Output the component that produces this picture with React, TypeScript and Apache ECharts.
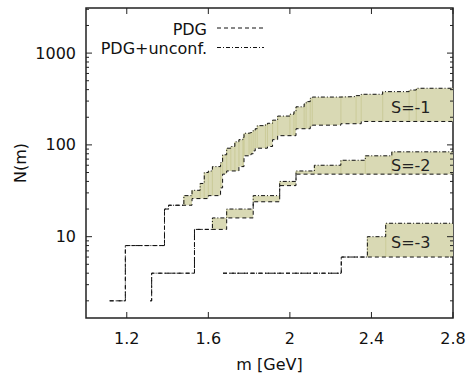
import React, { useEffect, useRef } from "react";
import * as echarts from "echarts";

// ---- axis ranges & ticks ----
const X_MIN = 1.0;
const X_MAX = 2.8;
const Y_MIN = 1.3;
const Y_MAX = 3100;
const xTickValues = [1.2, 1.6, 2.0, 2.4, 2.8];
const yMajorTicks = [10, 100, 1000];
const yMinorTicks = [2, 3, 4, 5, 6, 7, 8, 9, 20, 30, 40, 50, 60, 70, 80, 90, 200, 300, 400, 500, 600, 700, 800, 900, 2000, 3000];

// ---- S = -1 ----
const sM1PdgMass = [1.116, 1.193, 1.385, 1.405, 1.52, 1.6, 1.66, 1.67, 1.69, 1.75, 1.775, 1.8, 1.81, 1.82, 1.83, 1.89, 1.915, 1.94, 2.03, 2.1, 2.11, 2.25, 2.35];
const sM1PdgN = [2, 8, 20, 22, 26, 28, 34, 48, 52, 58, 76, 78, 80, 86, 92, 96, 114, 126, 150, 158, 164, 170, 180];
const sM1AllMass = [1.116, 1.193, 1.385, 1.405, 1.48, 1.52, 1.56, 1.58, 1.6, 1.62, 1.66, 1.67, 1.69, 1.71, 1.73, 1.75, 1.77, 1.775, 1.8, 1.81, 1.82, 1.83, 1.84, 1.88, 1.89, 1.915, 1.94, 2.0, 2.02, 2.03, 2.07, 2.08, 2.1, 2.11, 2.25, 2.325, 2.35, 2.455, 2.585, 2.62];
const sM1AllN = [2, 8, 20, 22, 28, 32, 38, 50, 52, 58, 64, 78, 92, 96, 108, 114, 120, 134, 136, 138, 144, 150, 162, 168, 172, 186, 206, 216, 230, 260, 280, 296, 322, 332, 336, 344, 356, 380, 396, 414];

// ---- S = -2 ----
const sM2PdgMass = [1.315, 1.322, 1.532, 1.69, 1.82, 1.95, 2.03];
const sM2PdgN = [2, 4, 12, 16, 24, 36, 48];
const sM2AllMass = [1.315, 1.322, 1.532, 1.62, 1.69, 1.82, 1.95, 2.03, 2.12, 2.25, 2.37, 2.5];
const sM2AllN = [2, 4, 12, 16, 20, 28, 40, 52, 60, 68, 76, 84];

// ---- S = -3 ----
const sM3PdgMass = [1.672, 2.252];
const sM3PdgN = [4, 6];
const sM3AllMass = [1.672, 2.252, 2.38, 2.47];
const sM3AllN = [4, 6, 10, 14];

const sectorLabels = ["S=-1", "S=-2", "S=-3"];
const legendLabels = ["PDG", "PDG+unconf."];

const FONT = "DejaVu Sans";
const TEXT = "#111";
const FILL = "#d9d9b4";
const EDGE = "#c4c48c";
const DASH_PDG = [4, 3];
const DASH_ALL = [4, 2, 1, 2];

function stepData(mass: number[], n: number[]) {
  const d = mass.map((m, i) => [m, n[i]]);
  d.push([X_MAX, n[n.length - 1]]);
  return d;
}

function valueAt(mass: number[], n: number[], x: number) {
  let v: number | null = null;
  for (let i = 0; i < mass.length; i++) if (mass[i] <= x + 1e-9) v = n[i];
  return v;
}

function bandData(pm: number[], pn: number[], am: number[], an: number[]) {
  const pts = Array.from(new Set([...pm, ...am])).sort((a, b) => a - b);
  pts.push(X_MAX);
  const out: number[][] = [];
  for (let i = 0; i < pts.length - 1; i++) {
    const a = pts[i];
    const b = pts[i + 1];
    const lo = valueAt(pm, pn, a);
    const hi = valueAt(am, an, a);
    if (lo != null && hi != null && hi > lo) out.push([a, b, lo, hi]);
  }
  return out;
}

function tickData() {
  const d: number[][] = [];
  xTickValues.forEach((v) => d.push([v, Y_MIN, 0, 6]));
  yMajorTicks.forEach((v) => d.push([X_MIN, v, 1, 6]));
  yMinorTicks.forEach((v) => d.push([X_MIN, v, 1, 3]));
  return d;
}

export default function App() {
  const ref = useRef<HTMLDivElement>(null);
  useEffect(() => {
    if (!ref.current) return;
    const chart = echarts.init(ref.current, null, { renderer: "svg" });

    const bandSeries = (data: number[][]) => ({
      type: "custom",
      silent: true,
      z: 1,
      encode: { x: [0, 1], y: [2, 3] },
      data,
      renderItem: (_p: any, api: any) => {
        const a = api.value(0), b = api.value(1), lo = api.value(2), hi = api.value(3);
        const p0 = api.coord([a, hi]);
        const p1 = api.coord([b, lo]);
        return {
          type: "group",
          children: [
            { type: "rect", shape: { x: p0[0], y: p0[1], width: p1[0] - p0[0], height: p1[1] - p0[1] }, style: { fill: FILL } },
            { type: "line", shape: { x1: p0[0], y1: p0[1], x2: p0[0], y2: p1[1] }, style: { stroke: EDGE, lineWidth: 0.8 } },
          ],
        };
      },
    });

    const lineSeries = (name: string, data: number[][], dash: number[]) => ({
      type: "line",
      name,
      step: "end",
      data,
      showSymbol: false,
      symbol: "none",
      silent: true,
      z: 3,
      lineStyle: { color: "#111", width: 1, type: dash },
    });

    const option: any = {
      animation: false,
      grid: { left: 86, top: 8, right: 18, bottom: 55, show: true, borderColor: "#222", borderWidth: 1.5, backgroundColor: "transparent" },
      xAxis: {
        type: "value",
        min: X_MIN,
        max: X_MAX,
        interval: 0.2,
        axisLine: { show: false },
        axisTick: { show: false },
        splitLine: { show: false },
        axisLabel: {
          fontSize: 16,
          fontFamily: FONT,
          color: TEXT,
          margin: 12,
          formatter: (v: number) => {
            const k = Math.round(v * 10);
            return k >= 12 && (k - 12) % 4 === 0 ? String(k / 10) : "";
          },
        },
      },
      yAxis: {
        type: "log",
        logBase: 10,
        min: Y_MIN,
        max: Y_MAX,
        axisLine: { show: false },
        axisTick: { show: false },
        splitLine: { show: false },
        axisLabel: {
          fontSize: 16,
          fontFamily: FONT,
          color: TEXT,
          margin: 10,
          formatter: (v: number) => {
            const l = Math.log10(v);
            return Math.abs(l - Math.round(l)) < 1e-6 ? String(Math.round(v)) : "";
          },
        },
      },
      series: [
        bandSeries(bandData(sM1PdgMass, sM1PdgN, sM1AllMass, sM1AllN)),
        bandSeries(bandData(sM2PdgMass, sM2PdgN, sM2AllMass, sM2AllN)),
        bandSeries(bandData(sM3PdgMass, sM3PdgN, sM3AllMass, sM3AllN)),
        lineSeries("PDG", stepData(sM1PdgMass, sM1PdgN), DASH_PDG),
        lineSeries("PDG+unconf.", stepData(sM1AllMass, sM1AllN), DASH_ALL),
        lineSeries("PDG", stepData(sM2PdgMass, sM2PdgN), DASH_PDG),
        lineSeries("PDG+unconf.", stepData(sM2AllMass, sM2AllN), DASH_ALL),
        lineSeries("PDG", stepData(sM3PdgMass, sM3PdgN), DASH_PDG),
        lineSeries("PDG+unconf.", stepData(sM3AllMass, sM3AllN), DASH_ALL),
        {
          type: "custom",
          silent: true,
          z: 4,
          encode: { x: 0, y: 1 },
          data: tickData(),
          renderItem: (_p: any, api: any) => {
            const kind = api.value(2), len = api.value(3);
            const st = { stroke: "#222", lineWidth: 1 };
            if (kind === 0) {
              const v = api.value(0);
              const pb = api.coord([v, Y_MIN]);
              const pt = api.coord([v, Y_MAX]);
              return {
                type: "group",
                children: [
                  { type: "line", shape: { x1: pb[0], y1: pb[1], x2: pb[0], y2: pb[1] - len }, style: st },
                  { type: "line", shape: { x1: pt[0], y1: pt[1], x2: pt[0], y2: pt[1] + len }, style: st },
                ],
              };
            }
            const v = api.value(1);
            const pl = api.coord([X_MIN, v]);
            const pr = api.coord([X_MAX, v]);
            return {
              type: "group",
              children: [
                { type: "line", shape: { x1: pl[0], y1: pl[1], x2: pl[0] + len, y2: pl[1] }, style: st },
                { type: "line", shape: { x1: pr[0], y1: pr[1], x2: pr[0] - len, y2: pr[1] }, style: st },
              ],
            };
          },
        },
      ],
      graphic: [
        { type: "text", x: 20, y: 163, rotation: Math.PI / 2, style: { text: "N(m)", fontSize: 16, fontFamily: FONT, fill: TEXT, align: "center", verticalAlign: "middle", textAlign: "center", textVerticalAlign: "middle" } },
        { type: "text", x: 269.5, y: 364, style: { text: "m [GeV]", fontSize: 16, fontFamily: FONT, fill: TEXT, align: "center", verticalAlign: "middle", textAlign: "center", textVerticalAlign: "middle" } },
        { type: "text", x: 207, y: 29.5, style: { text: legendLabels[0], fontSize: 16, fontFamily: FONT, fill: TEXT, align: "right", verticalAlign: "middle", textAlign: "right", textVerticalAlign: "middle" } },
        { type: "line", shape: { x1: 217, y1: 28, x2: 264, y2: 28 }, style: { stroke: "#111", lineWidth: 1, lineDash: DASH_PDG } },
        { type: "text", x: 207, y: 48.5, style: { text: legendLabels[1], fontSize: 16, fontFamily: FONT, fill: TEXT, align: "right", verticalAlign: "middle", textAlign: "right", textVerticalAlign: "middle" } },
        { type: "line", shape: { x1: 217, y1: 47.5, x2: 264, y2: 47.5 }, style: { stroke: "#111", lineWidth: 1, lineDash: DASH_ALL } },
        { type: "text", x: 391, y: 107, z: 10, style: { text: sectorLabels[0], fontSize: 16, fontFamily: FONT, fill: "#222", align: "left", verticalAlign: "middle", textAlign: "left", textVerticalAlign: "middle" } },
        { type: "text", x: 391, y: 165, z: 10, style: { text: sectorLabels[1], fontSize: 16, fontFamily: FONT, fill: "#222", align: "left", verticalAlign: "middle", textAlign: "left", textVerticalAlign: "middle" } },
        { type: "text", x: 391, y: 242, z: 10, style: { text: sectorLabels[2], fontSize: 16, fontFamily: FONT, fill: "#222", align: "left", verticalAlign: "middle", textAlign: "left", textVerticalAlign: "middle" } },
      ],
    };
    chart.setOption(option);
    return () => chart.dispose();
  }, []);
  return <div ref={ref} style={{ position: "absolute", left: 0, top: 0, width: 471, height: 373 }} />;
}
